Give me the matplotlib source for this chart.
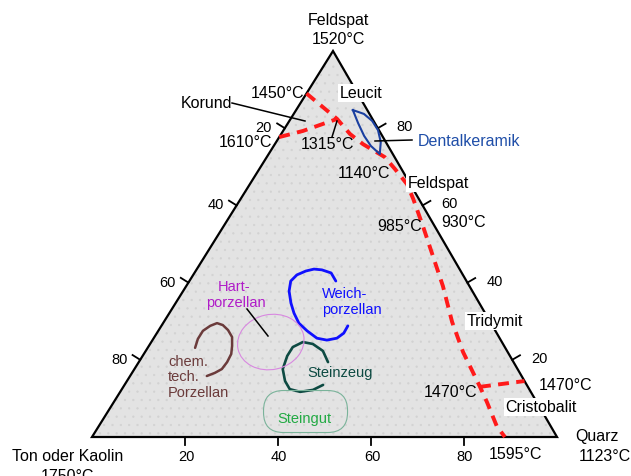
import numpy as np
import matplotlib
matplotlib.use('Agg')
import matplotlib.pyplot as plt
from matplotlib.patches import Polygon, Ellipse, FancyBboxPatch

plt.rcParams['font.family'] = ['Liberation Sans', 'DejaVu Sans']
plt.rcParams['hatch.linewidth'] = 0.4

# compositions are given as (Quarz %, Feldspat %); Ton = 100 - Quarz - Feldspat
# red phase boundaries
leucit_q = [0, 10.0, 14.8, 18.9, 25.4, 29.2, 33.8, 37.1, 42.8, 49.0, 55.2, 62.0, 68.4, 73.2, 76.7, 80.2, 85.6, 88.8]
leucit_f = [89, 82.4, 78.5, 75.9, 72.5, 69.4, 65.5, 61.7, 54.7, 46.9, 39.1, 29.8, 22.0, 16.8, 13.0, 9.1, 2.8, 0]
korund_q = [0, 4.3, 10.0]
korund_f = [77.7, 79.3, 82.4]
trid_q = [76.7, 85.5]
trid_f = [13.0, 14.5]

# porcelain regions
dental_q = [12.2, 15.1, 18.1, 20.9, 23.9, 22.5, 20.3, 17.8, 15.1, 12.2]
dental_f = [84.7, 81.3, 78.0, 75.4, 73.3, 76.4, 79.5, 81.9, 83.7, 84.7]
weich_q = [40.1, 40.2, 39.4, 37.5, 35.1, 32.0, 29.2, 26.8, 24.8, 22.8, 21.8, 22.3, 23.7, 25.2, 27.0, 29.4, 31.5]
weich_f = [28.8, 26.9, 25.6, 25.1, 25.6, 27.5, 29.5, 32.1, 34.7, 37.8, 40.4, 42.0, 43.0, 43.5, 43.3, 42.5, 40.4]
chem_q = [10.2, 9.6, 9.6, 10.5, 11.6, 13.1, 14.9, 16.7, 17.9, 18.8, 19.0, 18.8, 17.8, 16.5]
chem_f = [23.1, 25.4, 27.5, 28.8, 29.5, 29.0, 27.7, 25.9, 23.6, 21.5, 19.4, 17.6, 16.6, 15.8]
stz_q = [40.7, 38.1, 35.0, 32.6, 31.1, 31.1, 31.9, 34.0, 36.1, 38.7, 41.2, 42.7]
stz_f = [19.4, 22.3, 24.1, 24.6, 23.3, 21.0, 17.6, 14.5, 12.4, 11.7, 12.2, 13.5]
hart_center = (25.7, 24.6)
steingut_center = (42.5, 6.6)

tick_vals = [20, 40, 60, 80]

# triangle corners in pixels: Ton (left), Quarz (right), Feldspat (top)
BL = np.array([92.0, 438.0])
BR = np.array([557.0, 438.0])
TOP = np.array([333.0, 52.0])


def tern(q, f):
    q = np.asarray(q, float) / 100
    f = np.asarray(f, float) / 100
    t = 1 - q - f
    x = t * BL[0] + q * BR[0] + f * TOP[0]
    y = t * BL[1] + q * BR[1] + f * TOP[1]
    return x, y


fig = plt.figure(figsize=(6.31, 4.77), dpi=100)
ax = fig.add_axes([0, 0, 1, 1])
ax.set_xlim(0, 631)
ax.set_ylim(477, 0)
ax.axis('off')

ax.add_patch(Polygon([BL, BR, TOP], closed=True, facecolor='#e3e3e3', edgecolor='none', zorder=1))
# faint dot texture
ax.add_patch(Polygon([BL, BR, TOP], closed=True, facecolor='none', edgecolor='#d2d2d2', lw=0,
                     hatch='..', zorder=1.5))
ax.add_patch(Polygon([BL, BR, TOP], closed=True, facecolor='none', edgecolor='black', lw=1.6, zorder=2))

# ticks
tl = 9
n_left = np.array([-(TOP - BL)[1], (TOP - BL)[0]])
n_left = -n_left / np.linalg.norm(n_left)
n_right = np.array([(TOP - BR)[1], -(TOP - BR)[0]])
n_right = -n_right / np.linalg.norm(n_right)
for v in tick_vals:
    # left side: Ton
    x, y = tern(0, 100 - v)
    ax.plot([x, x + tl * n_left[0]], [y, y + tl * n_left[1]], color='black', lw=1.3, zorder=3)
    ax.text(x - 21, y - 1, str(v), fontsize=10.5, ha='center', va='center')
    # right side: Feldspat
    x, y = tern(100 - v, v)
    ax.plot([x, x + tl * n_right[0]], [y, y + tl * n_right[1]], color='black', lw=1.3, zorder=3)
    ax.text(x + 27, y - 2, str(v), fontsize=10.5, ha='center', va='center')
    # bottom: Quarz
    x, y = tern(v, 0)
    ax.plot([x, x], [y, y + 8], color='black', lw=1.3, zorder=3)
    ax.text(x + 1, 457, str(v), fontsize=10.5, ha='center', va='center')

# red boundaries
red = dict(color='#ff1a1a', lw=2.8, dashes=(2.8, 1.9), zorder=4)
ax.plot(*tern(leucit_q, leucit_f), **red)
ax.plot(*tern(korund_q, korund_f), **red)
ax.plot(*tern(trid_q, trid_f), **red)

# regions
ax.plot(*tern(dental_q, dental_f), color='#1a3fa0', lw=1.5, zorder=5)
ax.plot(*tern(weich_q, weich_f), color='#1010ff', lw=2.0, zorder=5, solid_capstyle='round',
        solid_joinstyle='round')
ax.plot(*tern(chem_q, chem_f), color='#6b3b3b', lw=1.8, zorder=5, solid_capstyle='round',
        solid_joinstyle='round')
ax.plot(*tern(stz_q, stz_f), color='#0d4a42', lw=1.9, zorder=5, solid_capstyle='round',
        solid_joinstyle='round')
hx, hy = tern(*hart_center)
ax.add_patch(Ellipse((hx, hy), 67, 55, angle=-12, facecolor='none', edgecolor='#d888e0', lw=0.8, zorder=5))
sx, sy = tern(*steingut_center)
ax.add_patch(FancyBboxPatch((sx - 22, sy - 1), 44, 2, boxstyle='round,pad=20,rounding_size=20',
                            facecolor='none', edgecolor='#7ab39a', lw=0.8, zorder=5))

# leader lines
lk = dict(color='black', lw=1.1, zorder=6)
ax.plot([232, 305], [104, 122], **lk)
ax.plot([332, 337], [138, 122], **lk)
ax.plot([375, 412], [142, 141], **lk)
ax.plot([247, 268], [310, 337], **lk)

fs = 11.5
wb = dict(facecolor='white', edgecolor='none', pad=1.2)
ax.text(338, 21, 'Feldspat', fontsize=fs, ha='center', va='center')
ax.text(338, 40, '1520°C', fontsize=fs, ha='center', va='center')
ax.text(278, 94, '1450°C', fontsize=fs, ha='center', va='center')
ax.text(361, 94, 'Leucit', fontsize=fs, ha='center', va='center', bbox=wb, zorder=7)
ax.text(206, 103, 'Korund', fontsize=fs, ha='center', va='center')
ax.text(246, 143, '1610°C', fontsize=fs, ha='center', va='center')
ax.text(328, 145, '1315°C', fontsize=fs, ha='center', va='center', zorder=7)
ax.text(418, 142, 'Dentalkeramik', fontsize=fs, ha='left', va='center', color='#1f4ea8')
ax.text(364, 174, '1140°C', fontsize=fs, ha='center', va='center')
ax.text(438, 184, 'Feldspat', fontsize=fs, ha='center', va='center', bbox=wb, zorder=7)
ax.text(464, 223, '930°C', fontsize=fs, ha='center', va='center')
ax.text(400, 227, '985°C', fontsize=fs, ha='center', va='center', zorder=7)
ax.text(495, 322, 'Tridymit', fontsize=fs, ha='center', va='center', bbox=wb, zorder=7)
ax.text(566, 386, '1470°C', fontsize=fs, ha='center', va='center')
ax.text(451, 393, '1470°C', fontsize=fs, ha='center', va='center', zorder=7)
ax.text(541, 408, 'Cristobalit', fontsize=fs, ha='center', va='center', bbox=wb, zorder=7)
ax.text(516, 455, '1595°C', fontsize=fs, ha='center', va='center')
ax.text(597, 437, 'Quarz', fontsize=fs, ha='center', va='center')
ax.text(605, 457, '1123°C', fontsize=fs, ha='center', va='center')
ax.text(68, 457, 'Ton oder Kaolin', fontsize=fs, ha='center', va='center')
ax.text(68, 477, '1750°C', fontsize=fs, ha='center', va='center')

rs = 10.5
ax.text(234, 287, 'Hart-', fontsize=rs, ha='center', va='center', color='#b01cc8')
ax.text(236, 303, 'porzellan', fontsize=rs, ha='center', va='center', color='#b01cc8')
ax.text(322, 294, 'Weich-', fontsize=rs, ha='left', va='center', color='#1010ff')
ax.text(322, 310, 'porzellan', fontsize=rs, ha='left', va='center', color='#1010ff')
ax.text(168, 362, 'chem.', fontsize=rs, ha='left', va='center', color='#6b3b3b')
ax.text(168, 377, 'tech.', fontsize=rs, ha='left', va='center', color='#6b3b3b')
ax.text(168, 393, 'Porzellan', fontsize=rs, ha='left', va='center', color='#6b3b3b')
ax.text(340, 373, 'Steinzeug', fontsize=rs, ha='center', va='center', color='#0d4a42')
ax.text(304, 419, 'Steingut', fontsize=rs, ha='center', va='center', color='#22aa44')

fig.savefig('out.png', dpi=100)
